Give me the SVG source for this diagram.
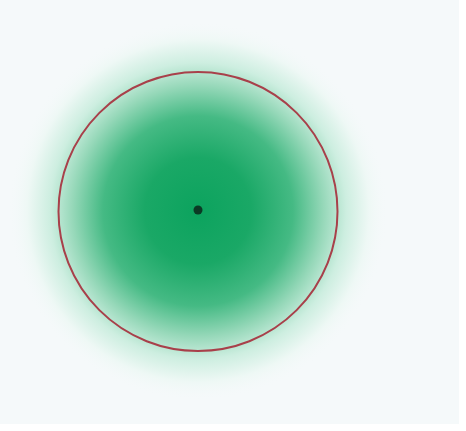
<svg xmlns="http://www.w3.org/2000/svg" width="466" height="431" viewBox="0 0 466 431">
  <defs>
    <radialGradient id="glow" cx="198" cy="211" r="190" gradientUnits="userSpaceOnUse">
      <stop offset="0" stop-color="#0ca35e"/>
      <stop offset="0.28" stop-color="#1aa866"/>
      <stop offset="0.5" stop-color="#45ba84"/>
      <stop offset="0.66" stop-color="#96d8b9"/>
      <stop offset="0.78" stop-color="#cdeee0"/>
      <stop offset="0.9" stop-color="#eef8f5"/>
      <stop offset="1" stop-color="#f5f9fa" stop-opacity="0"/>
    </radialGradient>
  </defs>
  <rect x="0" y="0" width="466" height="431" fill="#f5f9fa"/>
  <rect x="0" y="424" width="466" height="7" fill="#ffffff"/>
  <rect x="459" y="0" width="7" height="431" fill="#ffffff"/>
  <circle cx="198" cy="211" r="190" fill="url(#glow)"/>
  <g id="boundary">
    <circle cx="198" cy="211.5" r="139.5" fill="none" stroke="#a8404a" stroke-width="2"/>
  </g>
  <g id="center">
    <circle cx="198" cy="210" r="4.5" fill="#0b3a25"/>
  </g>
</svg>
